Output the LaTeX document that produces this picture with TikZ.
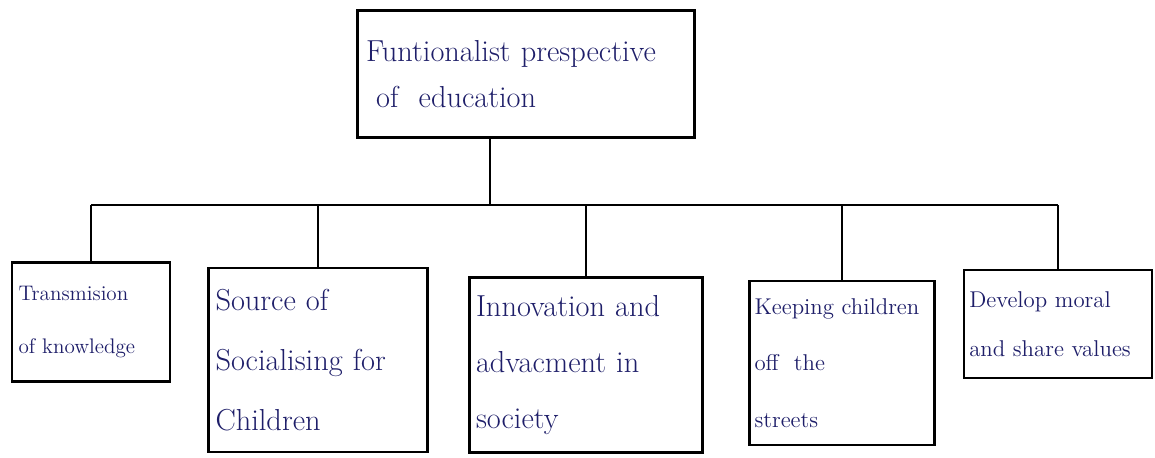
\documentclass[tikz,border=0pt]{standalone}
\usepackage{xcolor}
\usetikzlibrary{positioning}
\definecolor{ink}{RGB}{30,30,105}

\begin{document}
\begin{tikzpicture}[x=0.02cm, y=-0.02cm,
  topicbox/.style={rectangle, draw=black, line width=1.5pt, text=ink, font=\LARGE, align=left, inner sep=3pt},
  link/.style={draw=black, line width=1.5pt}]
\useasboundingbox[fill=white] (0,0) rectangle (1155,457);

% Main topic
\node[topicbox, minimum width=6.74cm, minimum height=2.54cm, text width=6.4cm] (root) at (526,74) {Funtionalist prespective\\[4pt] \ of \ education};

% Branch point on the bar
\coordinate (bar) at (490,205);

% Functions of education
\node[topicbox, font=\large, minimum width=3.16cm, minimum height=2.38cm, text width=2.9cm] (fn1) at (91,322) {Transmision\\[16pt]of knowledge};
\node[topicbox, minimum width=4.38cm, minimum height=3.68cm, text width=4.1cm] (fn2) at (318,360) {Source of\\[12pt]Socialising for\\[12pt]Children};
\node[topicbox, minimum width=4.66cm, minimum height=3.5cm, text width=4.4cm] (fn3) at (586,365) {Innovation and\\[10pt]advacment in\\[10pt]society};
\node[topicbox, font=\fontsize{13}{16}\selectfont, minimum width=3.7cm, minimum height=3.28cm, text width=3.5cm] (fn4) at (842,363) {Keeping children\\[16pt]off \ the\\[16pt]streets};
\node[topicbox, font=\fontsize{13}{16}\selectfont, minimum width=3.76cm, minimum height=2.16cm, text width=3.55cm] (fn5) at (1058,324) {Develop moral\\[12pt]and share values};

% Links
\draw[link] (root.south -| bar) -- (bar);
\draw[link] (fn1.north |- bar) -- (fn5.north |- bar);
\foreach \n in {1,...,5}
  \draw[link] (fn\n.north |- bar) -- (fn\n.north);

\end{tikzpicture}
\end{document}
